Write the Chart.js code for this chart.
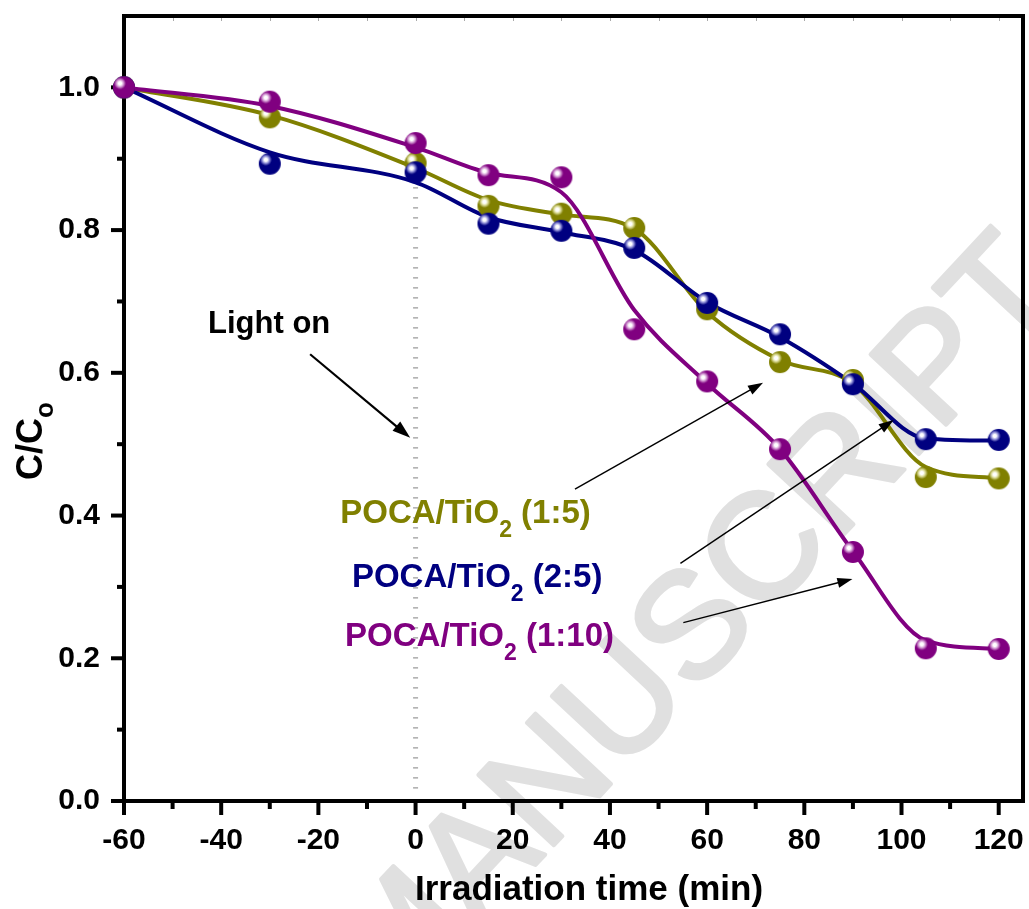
<!DOCTYPE html>
<html>
<head>
<meta charset="utf-8">
<title>C/Co vs irradiation time</title>
<script src="https://cdn.jsdelivr.net/npm/chart.js@4.4.1/dist/chart.umd.min.js"></script>
<style>
  html, body { margin: 0; padding: 0; background: #fff; }
  #wrap { width: 1029px; height: 909px; }
</style>
</head>
<body>
<div id="wrap"><canvas id="chart" width="1029" height="909"></canvas></div>
<script>
// irradiation time (min), negative = dark adsorption
const times = [-60, -30, 0, 15, 30, 45, 60, 75, 90, 105, 120];

// measured C/Co
const ratio15  = [1.000, 0.958, 0.894, 0.834, 0.823, 0.803, 0.689, 0.615, 0.590, 0.454, 0.452];
const ratio25  = [1.000, 0.893, 0.881, 0.809, 0.799, 0.775, 0.698, 0.654, 0.584, 0.507, 0.506];
const ratio110 = [1.000, 0.980, 0.922, 0.877, 0.874, 0.661, 0.588, 0.493, 0.349, 0.214, 0.213];

// smoothed fit curves at the same times
const fit15  = [1.000, 0.961, 0.887, 0.842, 0.822, 0.802, 0.685, 0.618, 0.585, 0.468, 0.452];
const fit25  = [1.000, 0.909, 0.867, 0.818, 0.797, 0.772, 0.699, 0.650, 0.585, 0.508, 0.505];
const fit110 = [1.000, 0.974, 0.916, 0.880, 0.853, 0.688, 0.585, 0.493, 0.350, 0.225, 0.213];

const ratios = ['1:5', '2:5', '1:10'];

const xTicks = [-60, -40, -20, 0, 20, 40, 60, 80, 100, 120];
const xMinor = [-50, -30, -10, 10, 30, 50, 70, 90, 110];
const yTicks = [0, 0.2, 0.4, 0.6, 0.8, 1.0];
const yMinor = [0.1, 0.3, 0.5, 0.7, 0.9];

const OLIVE = '#808000';
const NAVY = '#000080';
const PURPLE = '#800080';
const FONT = "'Liberation Sans', Arial, Helvetica, sans-serif";

// annotation anchors in data units
const lightOnText = [-42.7, 0.656];
const lightOnArrow = [-21.7, 0.626, -1.1, 0.509];
const labelPos = [[-15.5, 0.390], [-13.1, 0.300], [-14.5, 0.217]];
const pointerArrows = [
  [32.8, 0.437, 71.5, 0.586],
  [54.5, 0.333, 98.4, 0.534],
  [55.1, 0.250, 89.9, 0.311]
];

// shaded ball used as point marker
function makeBall(color, light) {
  const r = 11;
  const size = 2 * r + 2;
  const c = document.createElement('canvas');
  c.width = size;
  c.height = size;
  const g = c.getContext('2d');
  const cx = size / 2, cy = size / 2;
  const grad = g.createRadialGradient(cx - 4, cy - 4, 0, cx - 4, cy - 4, 11);
  grad.addColorStop(0, '#ffffff');
  grad.addColorStop(0.14, '#ffffff');
  grad.addColorStop(0.3, light);
  grad.addColorStop(0.55, color);
  grad.addColorStop(1, color);
  g.fillStyle = grad;
  g.beginPath();
  g.arc(cx, cy, r, 0, Math.PI * 2);
  g.fill();
  return c;
}

function toPoints(arr) {
  return times.map((t, i) => ({ x: t, y: arr[i] }));
}

function pointSet(arr, color, light, order) {
  return {
    data: toPoints(arr),
    showLine: false,
    pointStyle: makeBall(color, light),
    pointRadius: 11,
    backgroundColor: color,
    borderColor: color,
    clip: false,
    order
  };
}

function curveSet(arr, color, order) {
  return {
    data: toPoints(arr),
    showLine: true,
    borderColor: color,
    borderWidth: 4,
    pointRadius: 0,
    cubicInterpolationMode: 'monotone',
    fill: false,
    order
  };
}

function arrow(ctx, x1, y1, x2, y2, width, head, headW) {
  const a = Math.atan2(y2 - y1, x2 - x1);
  ctx.lineWidth = width;
  ctx.beginPath();
  ctx.moveTo(x1, y1);
  ctx.lineTo(x2 - Math.cos(a) * head * 0.8, y2 - Math.sin(a) * head * 0.8);
  ctx.stroke();
  ctx.beginPath();
  ctx.moveTo(x2, y2);
  ctx.lineTo(x2 - Math.cos(a) * head - Math.sin(a) * headW / 2, y2 - Math.sin(a) * head + Math.cos(a) * headW / 2);
  ctx.lineTo(x2 - Math.cos(a) * head + Math.sin(a) * headW / 2, y2 - Math.sin(a) * head - Math.cos(a) * headW / 2);
  ctx.closePath();
  ctx.fill();
}

// text with a subscript part: parts = [[text, isSub], ...]
function subText(ctx, parts, x, y, size, subSize, drop) {
  let cx = x;
  parts.forEach(([t, sub]) => {
    ctx.font = 'bold ' + (sub ? subSize : size) + 'px ' + FONT;
    ctx.fillText(t, cx, sub ? y + drop : y);
    cx += ctx.measureText(t).width;
  });
}

// keep the plot box fixed: no extra room for edge labels
function noEdgePadding(s) {
  s.paddingTop = 0;
  s.paddingBottom = 0;
  s.paddingLeft = 0;
  s.paddingRight = 0;
}

const decor = {
  id: 'decor',
  beforeDraw(chart) {
    const ctx = chart.ctx;
    ctx.save();
    ctx.translate(700, 628);
    ctx.rotate(-47 * Math.PI / 180);
    ctx.font = '150px ' + FONT;
    ctx.fillStyle = '#e0e0e0';
    ctx.strokeStyle = '#e0e0e0';
    ctx.lineWidth = 4;
    ctx.lineJoin = 'round';
    ctx.textAlign = 'center';
    ctx.textBaseline = 'middle';
    ctx.fillText('MANUSCRIPT', 0, 0);
    ctx.strokeText('MANUSCRIPT', 0, 0);
    ctx.restore();
  },
  beforeDatasetsDraw(chart) {
    const { ctx, chartArea: a, scales: { x, y } } = chart;
    ctx.save();
    // light-on marker at t = 0
    ctx.strokeStyle = '#9a9a9a';
    ctx.lineWidth = 5;
    ctx.setLineDash([1.3, 8.7]);
    ctx.beginPath();
    ctx.moveTo(x.getPixelForValue(0), y.getPixelForValue(0.86));
    ctx.lineTo(x.getPixelForValue(0), a.bottom - 4);
    ctx.stroke();
    ctx.setLineDash([]);

    // frame
    ctx.strokeStyle = '#000';
    ctx.lineWidth = 4;
    ctx.strokeRect(a.left, a.top, a.right - a.left, a.bottom - a.top);

    // faint ticks along the top
    ctx.strokeStyle = '#aaa';
    ctx.lineWidth = 1;
    for (let v = -50; v <= 120; v += 10) {
      const px = Math.round(x.getPixelForValue(v)) + 0.5;
      ctx.beginPath();
      ctx.moveTo(px, a.top + 2);
      ctx.lineTo(px, a.top + 5);
      ctx.stroke();
    }

    // outward ticks
    ctx.strokeStyle = '#000';
    ctx.lineWidth = 4;
    xTicks.forEach(v => {
      const px = x.getPixelForValue(v);
      ctx.beginPath(); ctx.moveTo(px, a.bottom); ctx.lineTo(px, a.bottom + 14); ctx.stroke();
    });
    xMinor.forEach(v => {
      const px = x.getPixelForValue(v);
      ctx.beginPath(); ctx.moveTo(px, a.bottom); ctx.lineTo(px, a.bottom + 8); ctx.stroke();
    });
    yTicks.forEach(v => {
      const py = y.getPixelForValue(v);
      ctx.beginPath(); ctx.moveTo(a.left, py); ctx.lineTo(a.left - 13, py); ctx.stroke();
    });
    yMinor.forEach(v => {
      const py = y.getPixelForValue(v);
      ctx.beginPath(); ctx.moveTo(a.left, py); ctx.lineTo(a.left - 7, py); ctx.stroke();
    });
    ctx.restore();
  },
  afterDatasetsDraw(chart) {
    const { ctx, scales: { x, y } } = chart;
    ctx.save();
    ctx.fillStyle = '#000';
    ctx.strokeStyle = '#000';
    ctx.textBaseline = 'alphabetic';
    ctx.textAlign = 'left';

    // axis titles
    ctx.font = 'bold 35px ' + FONT;
    ctx.textAlign = 'center';
    ctx.fillText('Irradiation time (min)', 589, 900);
    ctx.textAlign = 'left';

    ctx.save();
    ctx.translate(42, 480);
    ctx.rotate(-Math.PI / 2);
    subText(ctx, [['C/C', false], ['o', true]], 0, 0, 36, 26, 11);
    ctx.restore();

    // light on note
    ctx.font = 'bold 31px ' + FONT;
    ctx.fillText('Light on', x.getPixelForValue(lightOnText[0]), y.getPixelForValue(lightOnText[1]));
    const [lx1, ly1, lx2, ly2] = lightOnArrow;
    arrow(ctx, x.getPixelForValue(lx1), y.getPixelForValue(ly1),
      x.getPixelForValue(lx2), y.getPixelForValue(ly2), 2.2, 18, 12);

    // series labels and pointers
    const colors = [OLIVE, NAVY, PURPLE];
    ratios.forEach((r, i) => {
      ctx.fillStyle = colors[i];
      subText(ctx, [['POCA/TiO', false], ['2', true], [' (' + r + ')', false]],
        x.getPixelForValue(labelPos[i][0]), y.getPixelForValue(labelPos[i][1]), 33, 23, 14);
    });
    ctx.fillStyle = '#000';
    pointerArrows.forEach(([x1, y1, x2, y2]) => {
      arrow(ctx, x.getPixelForValue(x1), y.getPixelForValue(y1),
        x.getPixelForValue(x2), y.getPixelForValue(y2), 1.4, 15, 10);
    });
    ctx.restore();
  }
};

const tickFont = { family: FONT, size: 30, weight: 'bold' };

new Chart(document.getElementById('chart'), {
  type: 'scatter',
  data: {
    datasets: [
      pointSet(ratio110, PURPLE, '#d9a6d9', 1),
      pointSet(ratio25, NAVY, '#a0a0e0', 2),
      pointSet(ratio15, OLIVE, '#e0e0a0', 3),
      curveSet(fit110, PURPLE, 10),
      curveSet(fit25, NAVY, 11),
      curveSet(fit15, OLIVE, 12)
    ]
  },
  options: {
    responsive: false,
    animation: false,
    events: [],
    layout: { autoPadding: false, padding: { top: 16, right: 6, left: 0, bottom: 0 } },
    plugins: {
      legend: { display: false },
      tooltip: { enabled: false }
    },
    scales: {
      x: {
        type: 'linear',
        min: -60,
        max: 125,
        afterBuildTicks: s => { s.ticks = xTicks.map(v => ({ value: v })); },
        afterFit: s => { s.height = 108; noEdgePadding(s); },
        grid: { display: false, drawTicks: false },
        border: { display: false },
        ticks: { font: tickFont, color: '#000', padding: 22, maxRotation: 0, autoSkip: false }
      },
      y: {
        type: 'linear',
        min: 0,
        max: 1.1,
        afterBuildTicks: s => { s.ticks = yTicks.map(v => ({ value: v })); },
        afterFit: s => { s.width = 124; noEdgePadding(s); },
        grid: { display: false, drawTicks: false },
        border: { display: false },
        ticks: { font: tickFont, color: '#000', padding: 24, callback: v => v.toFixed(1) }
      }
    }
  },
  plugins: [decor]
});
</script>
</body>
</html>
